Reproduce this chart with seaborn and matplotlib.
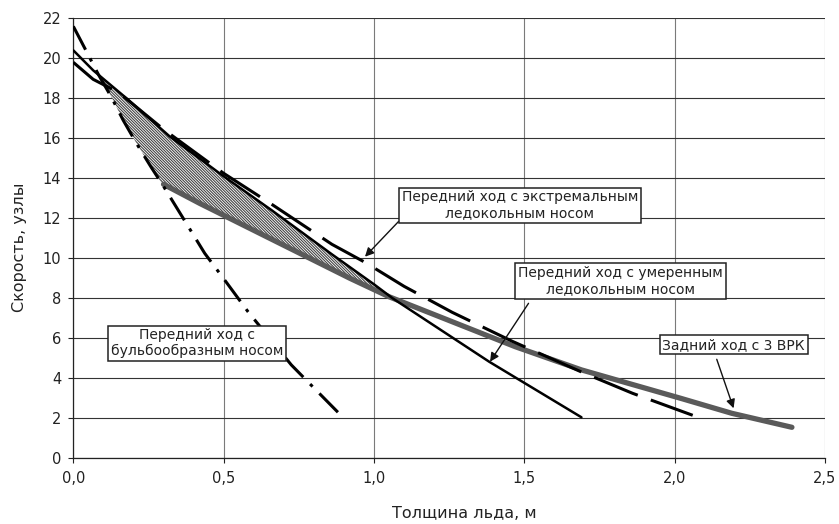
import numpy as np
import matplotlib
matplotlib.use("Agg")
import matplotlib.pyplot as plt
import seaborn as sns

# ---- data ----
bulb_x = [0.0, 0.04, 0.083, 0.127, 0.166, 0.21, 0.257, 0.3, 0.437, 0.509, 0.581, 0.725, 0.785, 0.89]
bulb_y = [21.6, 20.45, 19.2, 18.05, 16.9, 15.75, 14.6, 13.6, 10.25, 8.8, 7.33, 4.67, 3.75, 2.15]

moderate_x = [0.0, 0.066, 0.177, 0.32, 0.5, 0.66, 0.86, 1.0, 1.062, 1.383, 1.69]
moderate_y = [20.4, 19.4, 18.0, 16.1, 14.1, 12.4, 10.2, 8.7, 8.0, 4.83, 2.05]

extreme_x = [0.0, 0.066, 0.15, 0.3, 0.5, 0.66, 0.86, 0.97, 1.1, 1.26, 1.46, 1.70, 1.86, 2.06]
extreme_y = [19.8, 18.95, 18.3, 16.45, 14.25, 12.7, 10.7, 9.8, 8.6, 7.3, 5.85, 4.25, 3.25, 2.15]

astern_x = [0.3, 0.42, 0.92, 1.05, 1.47, 1.69, 2.02, 2.19, 2.39]
astern_y = [13.7, 12.75, 9.0, 8.08, 5.58, 4.42, 3.0, 2.25, 1.55]

x_ticks = [0.0, 0.5, 1.0, 1.5, 2.0, 2.5]
x_tick_labels = ["0,0", "0,5", "1,0", "1,5", "2,0", "2,5"]
y_ticks = list(range(0, 23, 2))

label_extreme = "Передний ход с экстремальным\nледокольным носом"
label_moderate = "Передний ход с умеренным\nледокольным носом"
label_astern = "Задний ход с 3 ВРК"
label_bulb = "Передний ход с\nбульбообразным носом"

# ---- style ----
sns.set_style("white")
plt.rcParams["font.family"] = ["DejaVu Sans"]
plt.rcParams["lines.scale_dashes"] = False
plt.rcParams["hatch.linewidth"] = 0.8
plt.rcParams["hatch.color"] = "#444444"

fig = plt.figure(figsize=(8.39, 5.24), dpi=100)
ax = fig.add_axes([0.0874, 0.1254, 0.9833 - 0.0874, 0.965 - 0.1254])

# hatched region between the moderate bow and the best of the others
xs = np.linspace(0.05, 1.1, 600)
upper = np.interp(xs, moderate_x, moderate_y)
lower = np.where(xs < astern_x[0], np.interp(xs, bulb_x, bulb_y),
                 np.interp(xs, astern_x, astern_y))
ax.fill_between(xs, lower, upper, where=upper >= lower, interpolate=True,
                facecolor="white", edgecolor="#444444", hatch="\\" * 12,
                linewidth=0, zorder=2)

sns.lineplot(x=astern_x, y=astern_y, ax=ax, color="#5a5a5a", lw=3.8,
             sort=False, zorder=3, solid_capstyle="round")
sns.lineplot(x=moderate_x, y=moderate_y, ax=ax, color="black", lw=1.8,
             sort=False, zorder=4)
sns.lineplot(x=extreme_x, y=extreme_y, ax=ax, color="black", lw=2.2,
             sort=False, zorder=4, ls=(0, (34, 10)))
sns.lineplot(x=bulb_x, y=bulb_y, ax=ax, color="black", lw=2.2,
             sort=False, zorder=4, ls=(0, (19, 7, 2.5, 7)))

ax.set_xlim(0, 2.5)
ax.set_ylim(0, 22)
ax.set_xticks(x_ticks)
ax.set_xticklabels(x_tick_labels)
ax.set_yticks(y_ticks)
ax.tick_params(axis="both", labelsize=10.5, length=3.6, width=0.8, color="#222222",
               labelcolor="#222222", direction="out", bottom=True, left=True)
ax.tick_params(axis="x", pad=5.5)
ax.tick_params(axis="y", pad=5)

ax.grid(True, axis="y", color="#333333", lw=0.8, zorder=0)
ax.grid(True, axis="x", color="#7a7a7a", lw=0.8, zorder=0)
ax.set_axisbelow(True)
for s in ["top", "right"]:
    ax.spines[s].set_visible(False)
for s in ["left", "bottom"]:
    ax.spines[s].set_color("#222222")
    ax.spines[s].set_linewidth(0.9)

ax.set_xlabel("Толщина льда, м", fontsize=11.5, color="#222222", va="center")
ax.set_ylabel("Скорость, узлы", fontsize=11.5, color="#222222", va="center")
ax.xaxis.set_label_coords(0.52, -0.1266)
ax.yaxis.set_label_coords(-0.0722, 0.479)

box = dict(boxstyle="square,pad=0.2", facecolor="white", edgecolor="#222222", lw=1.1)
txt = dict(fontsize=10, ha="center", va="center", color="#222222", zorder=6,
           linespacing=1.15)

ax.text(1.485, 12.65, label_extreme, bbox=box, **txt)
ax.text(1.82, 8.87, label_moderate, bbox=box, **txt)
ax.text(2.196, 5.68, label_astern, bbox=box, **txt)
ax.text(0.412, 5.75, label_bulb, bbox=box, **txt)

arrow = dict(arrowstyle="-|>", color="#111111", lw=1.0, mutation_scale=13,
             shrinkA=0, shrinkB=0)
ax.annotate("", xy=(0.970, 10.08), xytext=(1.081, 11.83), arrowprops=arrow, zorder=6)
ax.annotate("", xy=(1.386, 4.83), xytext=(1.514, 7.75), arrowprops=arrow, zorder=6)
ax.annotate("", xy=(2.196, 2.5), xytext=(2.140, 4.95), arrowprops=arrow, zorder=6)

fig.savefig("out.png", dpi=100)
